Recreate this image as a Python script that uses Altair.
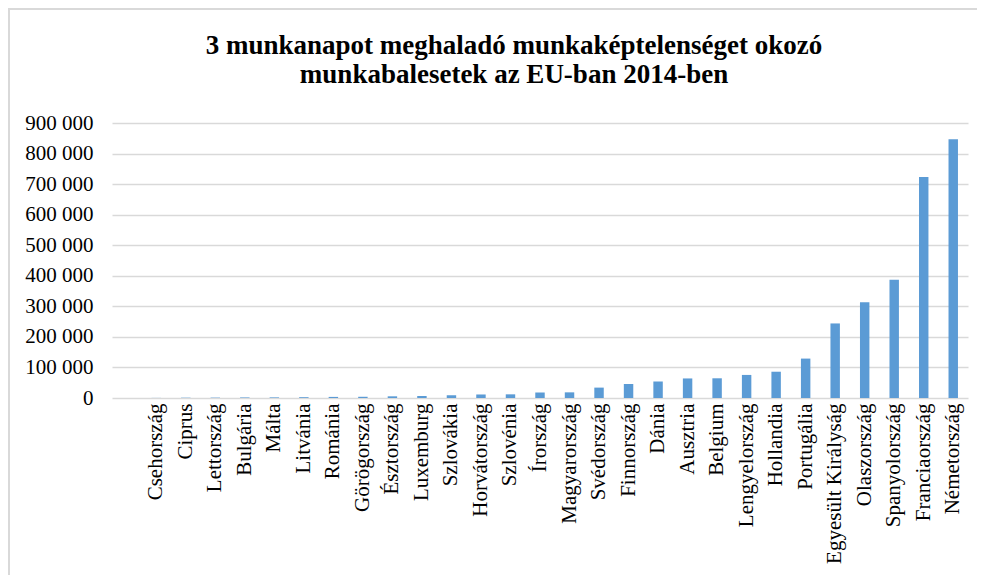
import altair as alt
import pandas as pd

countries = ["Csehország", "Ciprus", "Lettország", "Bulgária", "Málta", "Litvánia",
             "Románia", "Görögország", "Észtország", "Luxemburg", "Szlovákia",
             "Horvátország", "Szlovénia", "Írország", "Magyarország", "Svédország",
             "Finnország", "Dánia", "Ausztria", "Belgium", "Lengyelország", "Hollandia",
             "Portugália", "Egyesült Királyság", "Olaszország", "Spanyolország",
             "Franciaország", "Németország"]
values = [300, 1000, 1200, 1800, 2000, 2600,
          3600, 4000, 5500, 6500, 9000,
          11500, 12000, 18000, 18500, 34000,
          46000, 54000, 64000, 64500, 75500, 86000,
          129000, 244000, 313000, 387000,
          723000, 847000]
y_ticks = [0, 100000, 200000, 300000, 400000, 500000, 600000, 700000, 800000, 900000]

df = pd.DataFrame({"orszag": countries, "ertek": values})
domain = [" "] + countries

FONT = "Liberation Serif"

bars = alt.Chart(df).mark_bar(color="#5b9bd5").encode(
    x=alt.X("orszag:N", sort=domain,
            scale=alt.Scale(domain=domain, paddingInner=0.68, paddingOuter=0.34),
            axis=alt.Axis(title=None, labelAngle=-90, labelFont=FONT, labelFontSize=21,
                          labelColor="#000000", labelPadding=5, ticks=False, domain=False,
                          labelOverlap=False, labelLimit=0)),
    y=alt.Y("ertek:Q",
            scale=alt.Scale(domain=[0, 900000], nice=False),
            axis=alt.Axis(title=None, values=y_ticks, labelFont=FONT, labelFontSize=21,
                          labelColor="#000000", labelPadding=19, ticks=False, domain=False,
                          gridColor="#d9d9d9", gridWidth=1.3,
                          labelExpr="replace(format(datum.value, ','), regexp(',', 'g'), ' ')")),
)

frame_left = alt.Chart(alt.Data(values=[{}])).mark_rule(color="#d9d9d9", strokeWidth=2).encode(
    x=alt.value(-103), y=alt.value(-114), y2=alt.value(460))
frame_top = alt.Chart(alt.Data(values=[{}])).mark_rule(color="#d9d9d9", strokeWidth=2).encode(
    x=alt.value(-104), x2=alt.value(870), y=alt.value(-114))

chart = alt.layer(frame_left, frame_top, bars).properties(
    width=856, height=275,
    autosize=alt.AutoSizeParams(type="none"),
    padding={"left": 104, "top": 115, "right": 9, "bottom": 177},
    title=alt.TitleParams(
        text=["3 munkanapot meghaladó munkaképtelenséget okozó",
              "munkabalesetek az EU-ban 2014-ben"],
        font=FONT, fontSize=27, fontWeight="bold", color="#000000",
        anchor="middle", dx=-26, dy=109, lineHeight=29, offset=28),
).configure_view(stroke=None)

chart.save("out.html", embed_options={"renderer": "svg", "actions": False})
